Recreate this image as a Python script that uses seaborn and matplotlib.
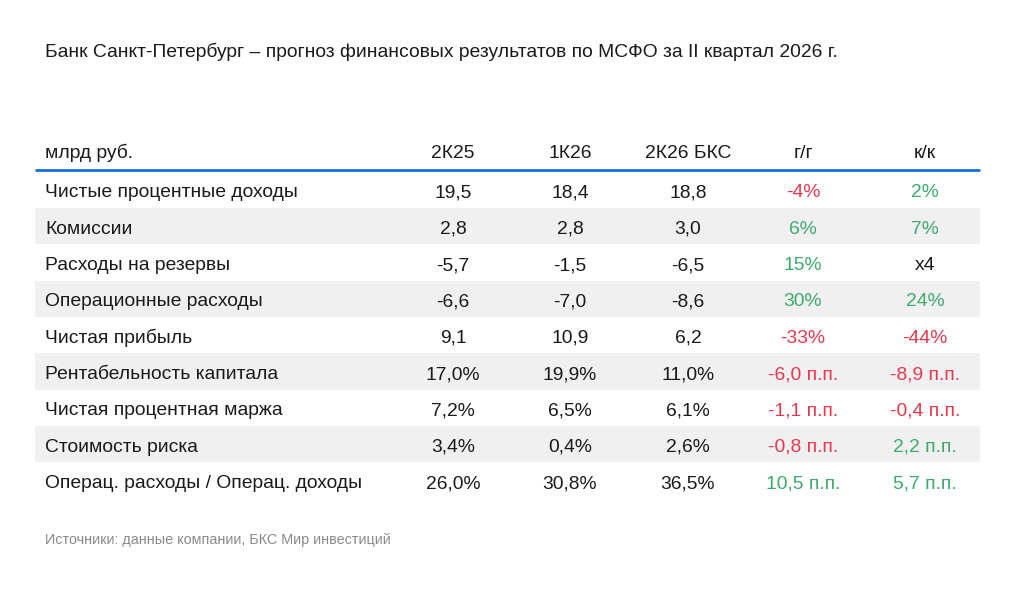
import matplotlib
matplotlib.use("Agg")
import matplotlib.pyplot as plt
import seaborn as sns
import numpy as np
import pandas as pd

title = "Банк Санкт-Петербург – прогноз финансовых результатов по МСФО за II квартал 2026 г."
source = "Источники: данные компании, БКС Мир инвестиций"
columns = ["млрд руб.", "2К25", "1К26", "2К26 БКС", "г/г", "к/к"]
rows = ["Чистые процентные доходы", "Комиссии", "Расходы на резервы",
        "Операционные расходы", "Чистая прибыль", "Рентабельность капитала",
        "Чистая процентная маржа", "Стоимость риска",
        "Операц. расходы / Операц. доходы"]
q2_25 = ["19,5", "2,8", "-5,7", "-6,6", "9,1", "17,0%", "7,2%", "3,4%", "26,0%"]
q1_26 = ["18,4", "2,8", "-1,5", "-7,0", "10,9", "19,9%", "6,5%", "0,4%", "30,8%"]
q2_26 = ["18,8", "3,0", "-6,5", "-8,6", "6,2", "11,0%", "6,1%", "2,6%", "36,5%"]
yoy = ["-4%", "6%", "15%", "30%", "-33%", "-6,0 п.п.", "-1,1 п.п.", "-0,8 п.п.", "10,5 п.п."]
qoq = ["2%", "7%", "x4", "24%", "-44%", "-8,9 п.п.", "-0,4 п.п.", "2,2 п.п.", "5,7 п.п."]
yoy_sign = ["neg", "pos", "pos", "pos", "neg", "neg", "neg", "neg", "pos"]
qoq_sign = ["pos", "pos", "none", "pos", "neg", "neg", "neg", "pos", "pos"]

RED = "#e8384f"
GREEN = "#3daa6e"
BLACK = "#1a1a1a"
BLUE = "#1a6fe0"
STRIPE = "#f0f0f0"
color_of = {"neg": RED, "pos": GREEN, "none": BLACK}

sns.set_theme(style="white")
plt.rcParams["font.family"] = ["Liberation Sans", "DejaVu Sans"]

W, H = 1022, 591
fig = plt.figure(figsize=(W / 100, H / 100), dpi=100)
fig.patch.set_facecolor("white")

# stripes through seaborn heatmap
left, right = 35, 980
top, bottom = 171.5, 498.5
stripe_ax = fig.add_axes([left / W, 1 - bottom / H, (right - left) / W, (bottom - top) / H])
parity = pd.DataFrame(np.array([[i % 2] for i in range(len(rows))]), index=rows)
sns.heatmap(parity, ax=stripe_ax, cmap=matplotlib.colors.ListedColormap(["white", STRIPE]),
            cbar=False, xticklabels=False, yticklabels=False, vmin=0, vmax=1)
stripe_ax.set_axis_off()

ax = fig.add_axes([0, 0, 1, 1])
ax.set_xlim(0, W)
ax.set_ylim(H, 0)
ax.set_axis_off()
ax.patch.set_alpha(0)

fs = 13.9
ax.text(45, 57, title, fontsize=fs, color=BLACK, va="baseline", ha="left")

col_x = [45, 453, 570, 688, 803, 925]
header_base = 157.5
for i, c in enumerate(columns):
    ax.text(col_x[i], header_base, c, fontsize=fs, color=BLACK, va="baseline",
            ha="left" if i == 0 else "center")
ax.plot([left, right], [169.8, 169.8], color=BLUE, lw=2, solid_capstyle="butt")

row_h = (bottom - top) / len(rows)
for r, name in enumerate(rows):
    y = top + row_h * (r + 0.5) + 7.8
    ax.text(col_x[0], y, name, fontsize=fs, color=BLACK, va="baseline", ha="left")
    for j, vals in enumerate([q2_25, q1_26, q2_26]):
        ax.text(col_x[j + 1], y, vals[r], fontsize=fs, color=BLACK, va="baseline", ha="center")
    ax.text(col_x[4], y, yoy[r], fontsize=fs, color=color_of[yoy_sign[r]], va="baseline", ha="center")
    ax.text(col_x[5], y, qoq[r], fontsize=fs, color=color_of[qoq_sign[r]], va="baseline", ha="center")

ax.text(45, 543.7, source, fontsize=10.4, color="#8a8a8a", va="baseline", ha="left")

fig.savefig("out.png", dpi=100, facecolor="white")
